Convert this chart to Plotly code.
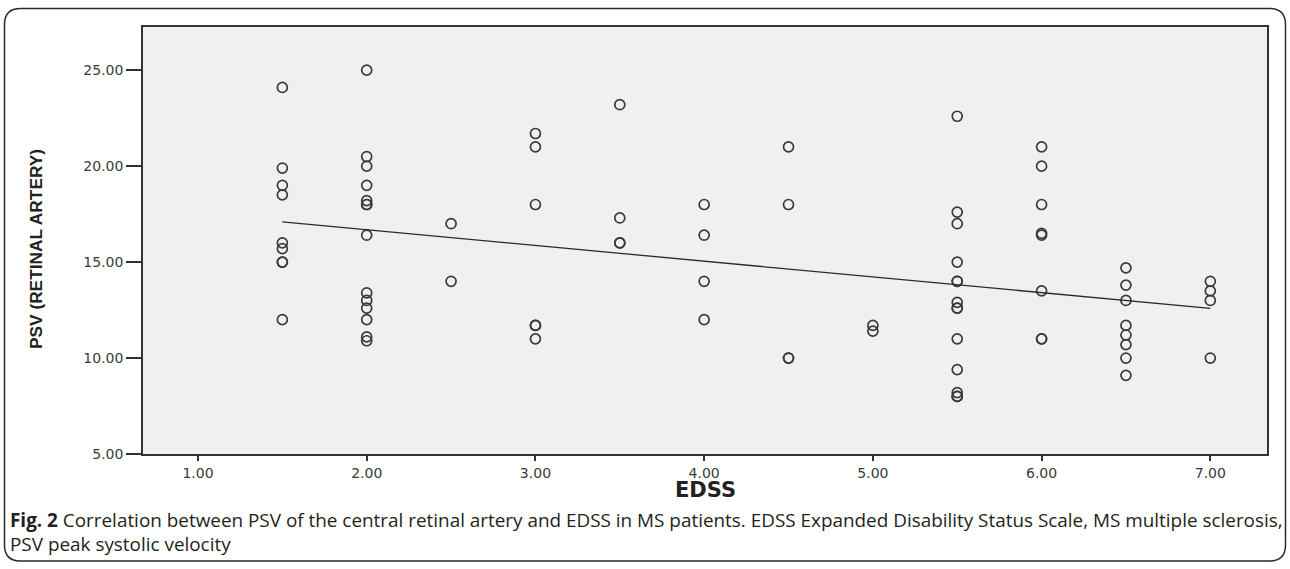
import numpy as np
import plotly.graph_objects as go

# ---- data ----
edss_levels = [1.5, 2.0, 2.5, 3.0, 3.5, 4.0, 4.5, 5.0, 5.5, 6.0, 6.5, 7.0]
psv_by_level = [
    [24.1, 19.9, 19.0, 18.5, 16.0, 15.7, 15.0, 15.0, 12.0],
    [25.0, 20.5, 20.0, 19.0, 18.2, 18.0, 18.0, 16.4, 13.4, 13.0, 12.6, 12.0, 11.1, 10.9],
    [17.0, 14.0],
    [21.7, 21.0, 18.0, 11.7, 11.7, 11.0],
    [23.2, 17.3, 16.0, 16.0],
    [18.0, 16.4, 14.0, 12.0],
    [21.0, 18.0, 10.0, 10.0],
    [11.7, 11.4],
    [22.6, 17.6, 17.0, 15.0, 14.0, 14.0, 12.9, 12.6, 12.6, 11.0, 9.4, 8.2, 8.0, 8.0],
    [21.0, 20.0, 18.0, 16.5, 16.4, 13.5, 11.0, 11.0],
    [14.7, 13.8, 13.0, 11.7, 11.2, 10.7, 10.0, 9.1],
    [14.0, 13.5, 13.0, 10.0],
]
x_ticks = [1, 2, 3, 4, 5, 6, 7]
y_ticks = [5, 10, 15, 20, 25]
x_title = "EDSS"
y_title = "PSV (RETINAL ARTERY)"
caption_bold = "Fig. 2"
caption_line1 = (" Correlation between PSV of the central retinal artery and EDSS in MS patients. "
                 "EDSS Expanded Disability Status Scale, MS multiple sclerosis,")
caption_line2 = "PSV peak systolic velocity"

edss = [lv for lv, vals in zip(edss_levels, psv_by_level) for _ in vals]
psv = [v for vals in psv_by_level for v in vals]

slope, intercept = np.polyfit(edss, psv, 1)
fit_x = [min(edss), max(edss)]
fit_y = [slope * v + intercept for v in fit_x]

fig = go.Figure()
fig.add_trace(go.Scatter(
    x=edss, y=psv, mode="markers",
    marker=dict(symbol="circle-open", size=10, color="#3a3a3a", line=dict(width=1.7, color="#3a3a3a")),
    showlegend=False, hoverinfo="x+y"))
fig.add_trace(go.Scatter(
    x=fit_x, y=fit_y, mode="lines",
    line=dict(color="#2b2b2b", width=1.3), showlegend=False, hoverinfo="skip"))

L, R, T, B = 143, 23, 27, 115
W, H = 1290, 569
pw, ph = W - L - R, H - T - B

def px(x):
    return (x - L) / pw

def py(y):
    return (H - B - y) / ph

tickfont = dict(family="DejaVu Sans, Arial, sans-serif", size=14, color="#3a3a3a")
fig.update_xaxes(range=[0.674, 7.336], tickvals=x_ticks, tickformat=".2f",
                 ticks="outside", ticklen=5, tickwidth=1.5, tickcolor="#333",
                 showline=True, linecolor="#333", linewidth=1.5, mirror=True,
                 showgrid=False, zeroline=False, tickfont=tickfont)
fig.update_yaxes(range=[5, 27.25], tickvals=y_ticks, tickformat=".2f",
                 ticks="outside", ticklen=15, tickwidth=1.5, tickcolor="#333",
                 showline=True, linecolor="#333", linewidth=1.5, mirror=True,
                 showgrid=False, zeroline=False, tickfont=tickfont)

annotations = [
    dict(text=f"<b>{x_title}</b>", x=px(705), y=py(490), xref="paper", yref="paper",
         showarrow=False, xanchor="center", yanchor="middle",
         font=dict(family="DejaVu Sans, Arial, sans-serif", size=21, color="#222")),
    dict(text=f"<b>{y_title}</b>", x=px(36), y=py(249), xref="paper", yref="paper",
         showarrow=False, xanchor="center", yanchor="middle", textangle=-90,
         font=dict(family="Liberation Sans, Arial, sans-serif", size=17.3, color="#222")),
    dict(text=f"<b>{caption_bold}</b>{caption_line1}", x=px(8), y=py(520), xref="paper", yref="paper",
         showarrow=False, xanchor="left", yanchor="middle",
         font=dict(family="Open Sans, sans-serif", size=18.9, color="#231f20")),
    dict(text=caption_line2, x=px(8), y=py(544), xref="paper", yref="paper",
         showarrow=False, xanchor="left", yanchor="middle",
         font=dict(family="Open Sans, sans-serif", size=18.9, color="#231f20")),
]

# rounded outer frame (decoration) in paper coordinates
x0, x1 = px(4.5), px(1285.5)
y0, y1 = py(561), py(8.5)
rx, ry = 16 / pw, 16 / ph
frame = (f"M {x0+rx},{y1} L {x1-rx},{y1} Q {x1},{y1} {x1},{y1-ry} "
         f"L {x1},{y0+ry} Q {x1},{y0} {x1-rx},{y0} L {x0+rx},{y0} "
         f"Q {x0},{y0} {x0},{y0+ry} L {x0},{y1-ry} Q {x0},{y1} {x0+rx},{y1} Z")

fig.update_layout(
    width=W, height=H,
    margin=dict(l=L, r=R, t=T, b=B),
    paper_bgcolor="white", plot_bgcolor="#f0f0f0",
    annotations=annotations,
    shapes=[dict(type="path", path=frame, xref="paper", yref="paper",
                 line=dict(color="#2a2a2a", width=1.5), layer="above")],
)

fig.write_html("out.html", config={"displayModeBar": False},
               post_script="document.body.style.margin='0';document.body.style.overflow='hidden';")
